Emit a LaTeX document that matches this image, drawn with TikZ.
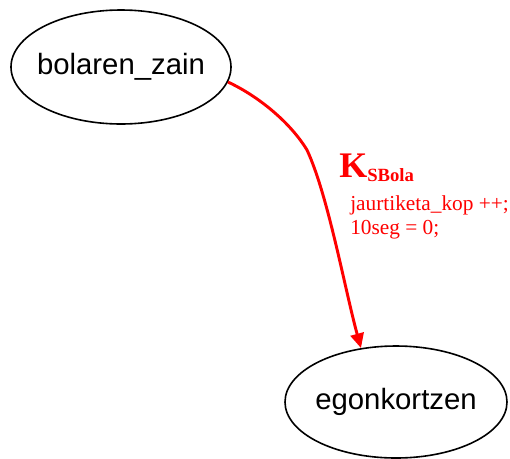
\documentclass[tikz,border=0pt]{standalone}
\usepackage{fontspec}
\setmainfont{Liberation Serif}
\newfontfamily\nodefont{Liberation Sans}
\usetikzlibrary{shapes.geometric,arrows.meta}
\tikzset{
  state/.style={ellipse, draw=black, line width=1.2pt, inner sep=0pt, font=\nodefont\fontsize{22}{26}\selectfont},
  trans/.style={draw=red, line width=2.2pt, -{Triangle[length=11pt,width=10pt]}},
  lbl/.style={text=red, inner sep=0pt, anchor=base west}
}
\begin{document}
\begin{tikzpicture}[x=0.75pt,y=-0.75pt]
\useasboundingbox (0,0) rectangle (510,458);
\node[state, minimum width=165pt, minimum height=85.5pt] (a) at (121,67) {\makebox[0pt][c]{bolaren\_zain}};
\node[state, minimum width=166.5pt, minimum height=84pt] (b) at (396,402) {\makebox[0pt][c]{egonkortzen}};
\draw[trans] (a.-8) .. controls (258,96) and (290,122) .. (307,150) .. controls (328,195) and (345,290) .. (b.123);
\node[lbl] (k) at (339,177) {\fontsize{27}{31}\selectfont\bfseries K\raisebox{-3pt}{\fontsize{14}{16}\selectfont SBola}};
\node[lbl] (l1) at (350,210) {\fontsize{16}{19}\selectfont jaurtiketa\_kop ++;};
\node[lbl] (l2) at (350,234) {\fontsize{16}{19}\selectfont 10seg = 0;};
\end{tikzpicture}
\end{document}
